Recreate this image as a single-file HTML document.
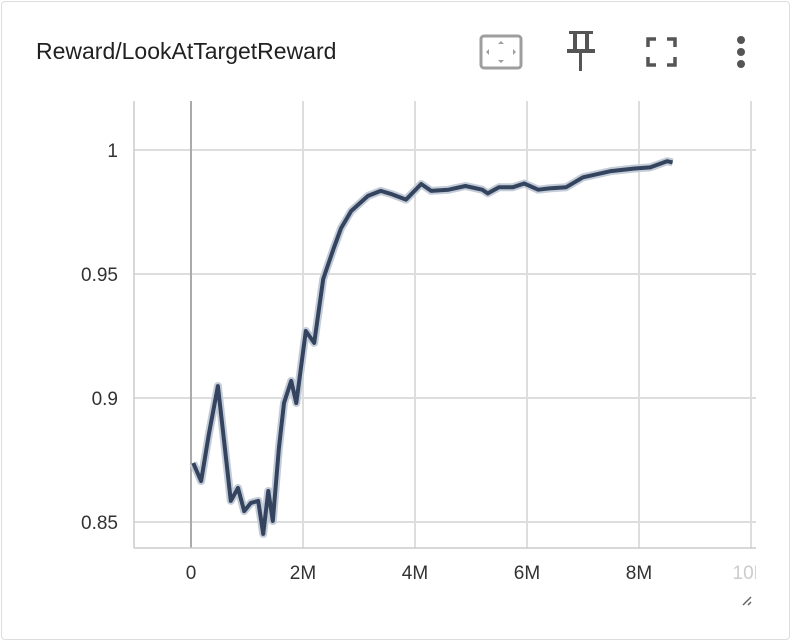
<!DOCTYPE html>
<html><head><meta charset="utf-8"><style>
body{margin:0;background:#fff;font-family:"Liberation Sans",sans-serif}
.card{position:absolute;left:1px;top:1px;width:787px;height:637px;border:1px solid #ddd;border-radius:4px;background:#fff}
.title{position:absolute;left:34px;top:36px;font-size:23px;color:#212121}
</style></head><body>
<div class="card">
<div class="title">Reward/LookAtTargetReward</div>
<svg width="791" height="641" style="position:absolute;left:-1px;top:-1px">
<defs><clipPath id="xc"><rect x="0" y="0" width="755" height="641"/></clipPath></defs>
<g><rect x="480" y="35" width="40" height="32" rx="3" fill="none" stroke="#9e9e9e" stroke-width="3"/><path d="M500 40l-3 3h6zM500 62l-3-3h6zM485 51l3-3v6zM515 51l-3-3v6z" fill="#9e9e9e"/></g>
<g fill="#555"><rect x="568" y="30" width="24" height="3"/><rect x="572" y="32" width="4" height="18"/><rect x="584" y="32" width="4" height="18"/><rect x="566" y="48" width="28" height="4"/><rect x="578" y="50" width="3" height="20"/></g>
<g fill="none" stroke="#555" stroke-width="3.5"><path d="M647 46v-8h8M666 38h8v8M674 56v8h-8M655 64h-8v-8"/></g>
<g fill="#555"><circle cx="740" cy="39" r="4"/><circle cx="740" cy="51" r="4"/><circle cx="740" cy="63" r="4"/></g>
<g id="chart" clip-path="url(#xc)"></g>
<path d="M742 604l8-8M747 604l3-3" stroke="#666" stroke-width="1.5"/>
</svg>
</div>
<script>
const steps=[0.04,0.18,0.32,0.48,0.59,0.71,0.84,0.95,1.07,1.2,1.29,1.38,1.46,1.57,1.66,1.79,1.88,2.05,2.2,2.36,2.55,2.68,2.86,3.16,3.39,3.57,3.84,4.11,4.29,4.6,4.9,5.2,5.3,5.5,5.75,5.95,6.2,6.4,6.7,7.0,7.5,7.9,8.2,8.5,8.6];
const values=[0.8738,0.8665,0.8855,0.9048,0.883,0.8585,0.8637,0.8544,0.8577,0.8585,0.8452,0.8625,0.8504,0.8798,0.898,0.9069,0.898,0.927,0.9222,0.948,0.9605,0.9685,0.9754,0.9815,0.9835,0.9823,0.980,0.9863,0.9835,0.984,0.9855,0.984,0.9825,0.985,0.985,0.9865,0.984,0.9845,0.985,0.989,0.9915,0.9925,0.993,0.9955,0.995];
const xTicks=[0,2,4,6,8,10];
const xTickLabels=["0","2M","4M","6M","8M","10M"];
const yTicks=[0.85,0.9,0.95,1];
const yTickLabels=["0.85","0.9","0.95","1"];
const L=133,R=755,T=100,B=547;
const X=v=>190+v*56;
const Y=v=>149+(1-v)*2480;
const g=document.getElementById('chart');
const ns='http://www.w3.org/2000/svg';
function mk(t,a){const e=document.createElementNS(ns,t);for(const k in a)e.setAttribute(k,a[k]);g.appendChild(e);return e;}
yTicks.forEach((v,i)=>{
 const l=mk('line',{x1:L,x2:R,y1:Y(v),y2:Y(v),stroke:'#ddd','stroke-width':2});
 
 
 const t=mk('text',{x:117,y:Y(v)+7,'text-anchor':'end','font-size':19,fill:'#333'});t.textContent=yTickLabels[i];
 
 
});
xTicks.forEach((v,i)=>{
 const l=mk('line',{x1:X(v),x2:X(v),y1:T,y2:B,stroke:v===0?'#aaa':'#ddd','stroke-width':2});
 
 
 const t=mk('text',{x:X(v),y:578,'text-anchor':'middle','font-size':19,fill:v===10?'#ccc':'#333'});t.textContent=xTickLabels[i];
 
 
});
const ax=mk('line',{x1:L,x2:R,y1:B,y2:B,stroke:'#ccc','stroke-width':1.5});


const ay=mk('line',{x1:L,x2:L,y1:T,y2:B,stroke:'#ccc','stroke-width':1.5});


const d=steps.map((s,i)=>(i?'L':'M')+X(s).toFixed(1)+' '+Y(values[i]).toFixed(1)).join('');
const raw=mk('path',{d:d,fill:'none',stroke:'#c3ccd8','stroke-width':8,'stroke-linejoin':'round'});


const sm=mk('path',{d:d,fill:'none',stroke:'#34445e','stroke-width':4,'stroke-linejoin':'round'});


</script>
</body></html>
